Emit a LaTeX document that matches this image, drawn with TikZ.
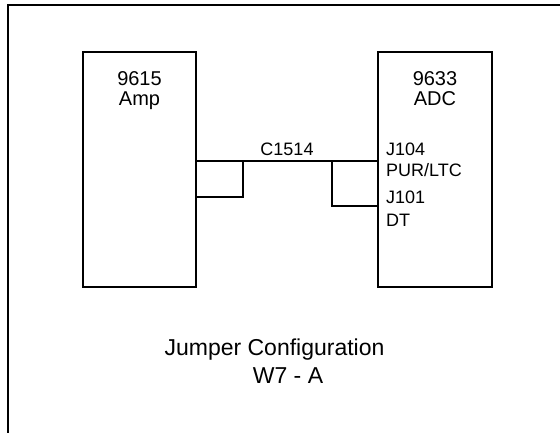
\documentclass[tikz,border=0pt]{standalone}
\usepackage{fontspec}
\setmainfont{Liberation Sans}
\begin{document}
\begin{tikzpicture}[x=1pt,y=-1pt,
  unit/.style={draw,line width=2pt,minimum width=113pt,minimum height=235pt,inner sep=0pt},
  wire/.style={line width=2pt},
  lbl/.style={font=\fontsize{18}{21}\selectfont,anchor=base west,inner sep=0pt},
  boxtxt/.style={font=\fontsize{20}{21}\selectfont,anchor=base,inner sep=0pt},
  title/.style={font=\fontsize{23}{28}\selectfont,anchor=base,inner sep=0pt}]
\useasboundingbox (0,0) rectangle (560,432);
\draw[line width=2.5pt] (8,440) -- (8,5) -- (568,5);
\node[unit] (amp) at (139.5,169.5) {};
\node[unit,minimum width=114pt] (adc) at (435,169.5) {};
\node[boxtxt] (ampa) at (139.5,85.7) {9615};
\node[boxtxt] (ampb) at (139.5,105.5) {Amp};
\node[boxtxt] (adca) at (435,85.7) {9633};
\node[boxtxt] (adcb) at (435,105.5) {ADC};
\coordinate (wl) at (amp.east |- 0,160.7);
\coordinate (wr) at (adc.west |- 0,160.7);
\draw[wire] (wl) -- (wr);
\node[font=\fontsize{18}{21}\selectfont,anchor=base,inner sep=0pt] (c1514) at (287,155) {C1514};
\coordinate (j1a) at (242.7,160.7);
\coordinate (j1b) at (242.7,197);
\coordinate (j1c) at (amp.east |- 0,197);
\draw[wire] (j1a) -- (j1b) -- (j1c);
\coordinate (j2a) at (331.7,160.7);
\coordinate (j2b) at (331.7,205.7);
\coordinate (j2c) at (adc.west |- 0,205.7);
\draw[wire] (j2a) -- (j2b) -- (j2c);
\node[lbl] (j104) at (386,155.7) {J104};
\node[lbl] (pur) at (386,176.7) {PUR/LTC};
\node[lbl] (j101) at (386,203) {J101};
\node[lbl] (dt) at (386,226) {DT};
\node[title] (t1) at (274.5,355) {Jumper Configuration};
\node[title] (t2) at (288,383) {W7 - A};
\end{tikzpicture}
\end{document}
